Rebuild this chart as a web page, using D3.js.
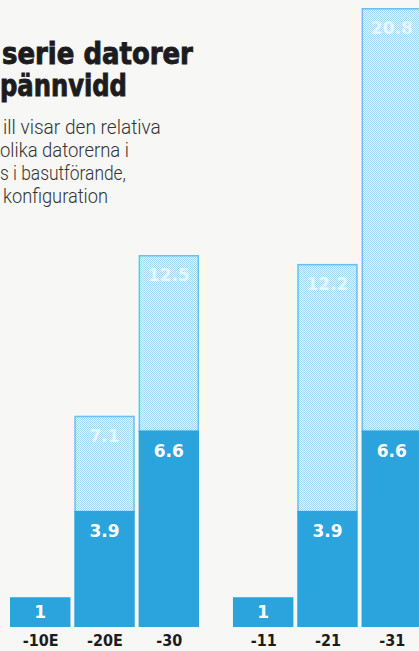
<!DOCTYPE html>
<html>
<head>
<meta charset="utf-8">
<script src="https://cdn.jsdelivr.net/npm/d3@7"></script>
<style>
    html, body { margin: 0; padding: 0; background: #f7f7f5; overflow: hidden; }
</style>
</head>
<body>
<div id="chart_div"></div>
<script>
const models = ["-10E", "-20E", "-30", "-11", "-21", "-31"];
const groups = ["A", "A", "A", "B", "B", "B"];
const baseValues = [1, 3.9, 6.6, 1, 3.9, 6.6];
const maxValues = [null, 7.1, 12.5, null, 12.2, 20.8];
const titleLines = ["serie datorer", "pännvidd"];
const subtitleLines = ["ill visar den relativa", "olika datorerna i", "s i basutförande,", "konfiguration"];

const width = 419;
const height = 651;
const baseline = 627;

const data = models.map((m, i) => ({ model: m, group: groups[i], base: baseValues[i], max: maxValues[i] }));

const svg = d3.select("#chart_div")
    .append("svg")
    .attr("width", width)
    .attr("height", height);

svg.append("rect")
    .attr("width", width)
    .attr("height", height)
    .attr("fill", "#f7f7f5");

// dotted screen for the "max configuration" part
const pattern = svg.append("defs")
    .append("pattern")
    .attr("id", "dots")
    .attr("width", 2)
    .attr("height", 2)
    .attr("patternUnits", "userSpaceOnUse");
pattern.append("rect").attr("width", 2).attr("height", 2).attr("fill", "#e9f5fc");
pattern.append("rect").attr("width", 1).attr("height", 1).attr("fill", "#9fd3f0");
pattern.append("rect").attr("x", 1).attr("y", 1).attr("width", 1).attr("height", 1).attr("fill", "#9fd3f0");

const xGroup = d3.scaleBand()
    .domain(["A", "B"])
    .range([10, 422])
    .paddingInner(0.152)
    .paddingOuter(0);

const xInner = d3.scaleBand()
    .domain([0, 1, 2])
    .range([0, xGroup.bandwidth()])
    .paddingInner(0.06);

const x = (d, i) => xGroup(d.group) + xInner(i % 3);

const y = d3.scaleLinear()
    .domain([0, 20.8])
    .range([baseline, 8]);

// squeeze a text line horizontally so it spans the wanted width
const fit = (sel, xs, ys, widths) => sel.each(function (d, i) {
    const w = this.getComputedTextLength();
    d3.select(this)
        .attr("x", 0)
        .attr("y", 0)
        .attr("transform", `translate(${xs[i]},${ys[i]}) scale(${widths[i] / w},1)`);
});

// title
svg.append("g")
    .selectAll("text")
    .data(titleLines)
    .enter()
    .append("text")
    .attr("font-size", 31)
    .attr("font-weight", "bold")
    .attr("fill", "#1c1c1e")
    .attr("stroke", "#1c1c1e")
    .attr("stroke-width", 0.9)
    .style("font-family", "'DejaVu Sans Condensed', 'DejaVu Sans', sans-serif")
    .text(d => d)
    .call(fit, [2, 0], [64, 96], [191, 127]);

svg.append("g")
    .selectAll("text")
    .data(subtitleLines)
    .enter()
    .append("text")
    .attr("font-size", 21)
    .attr("font-weight", 300)
    .attr("fill", "#333")
    .style("font-family", "Roboto, 'Liberation Sans', sans-serif")
    .text(d => d)
    .call(fit, [3, 0, 0, 3], [134, 157, 180, 203], [158, 129, 126, 105]);

const bars = svg.append("g");

bars.selectAll("rect.max")
    .data(data.filter(d => d.max !== null))
    .enter()
    .append("rect")
    .attr("class", "max")
    .attr("x", d => x(d, models.indexOf(d.model)) + 0.75)
    .attr("y", d => y(d.max) + 0.75)
    .attr("width", xInner.bandwidth() - 1.5)
    .attr("height", d => y(d.base) - y(d.max))
    .attr("fill", "url(#dots)")
    .attr("stroke", "#6cbfe9")
    .attr("stroke-width", 1.5);

bars.selectAll("rect.base")
    .data(data)
    .enter()
    .append("rect")
    .attr("class", "base")
    .attr("x", (d, i) => x(d, i))
    .attr("y", d => y(d.base))
    .attr("width", xInner.bandwidth())
    .attr("height", d => y(0) - y(d.base))
    .attr("fill", "#2ba4dd");

bars.selectAll("text.base")
    .data(data)
    .enter()
    .append("text")
    .attr("class", "base")
    .attr("x", (d, i) => x(d, i) + xInner.bandwidth() / 2)
    .attr("y", d => y(d.base) + (d.base < 2 ? 21 : 26))
    .attr("text-anchor", "middle")
    .attr("font-size", 17)
    .attr("font-weight", "bold")
    .attr("fill", "#ffffff")
    .style("font-family", "'DejaVu Sans', sans-serif")
    .text(d => d.base);

bars.selectAll("text.max")
    .data(data.filter(d => d.max !== null))
    .enter()
    .append("text")
    .attr("class", "max")
    .attr("x", d => x(d, models.indexOf(d.model)) + xInner.bandwidth() / 2)
    .attr("y", d => y(d.max) + 26)
    .attr("text-anchor", "middle")
    .attr("font-size", 17)
    .attr("font-weight", "bold")
    .attr("fill", "#f4fafd")
    .attr("fill-opacity", 0.85)
    .style("font-family", "'DejaVu Sans', sans-serif")
    .text(d => d.max);

// category labels
const xAxis = d3.axisBottom(d3.scaleOrdinal()
        .domain(models)
        .range(data.map((d, i) => x(d, i) + xInner.bandwidth() / 2)))
    .tickSize(0)
    .tickPadding(0);

svg.append("g")
    .attr("transform", `translate(0, ${baseline + 8})`)
    .call(xAxis)
    .call(g => g.select(".domain").remove())
    .call(g => g.selectAll("text")
        .attr("font-size", 16)
        .attr("font-weight", "bold")
        .attr("fill", "#1c1c1e")
        .style("font-family", "'DejaVu Sans Condensed', 'DejaVu Sans', sans-serif"));
</script>
</body>
</html>
